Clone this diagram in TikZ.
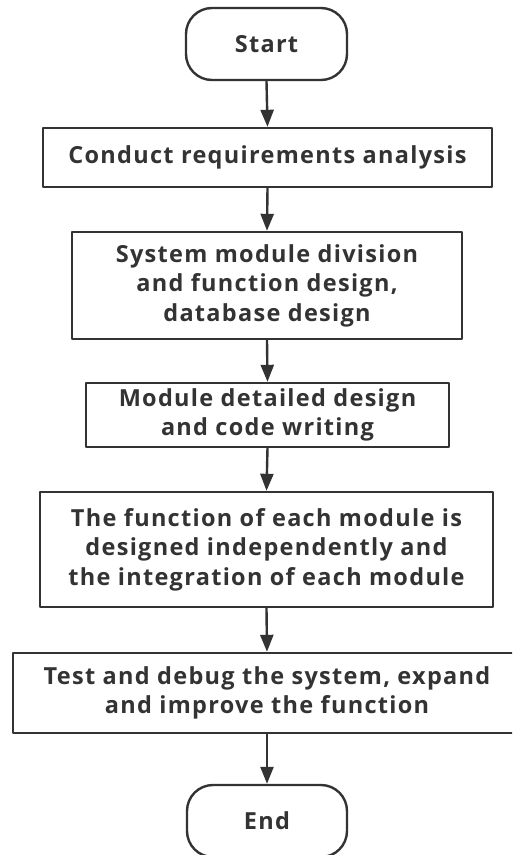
\documentclass[tikz,border=0pt]{standalone}
\usepackage{fontspec}
\setmainfont{Open Sans}[LetterSpace=5.5]
\usetikzlibrary{arrows.meta}

\definecolor{ink}{HTML}{333333}

\begin{document}
\begin{tikzpicture}[x=1pt, y=-1pt, line join=round,
    box/.style={draw=ink, line width=2.4pt, inner sep=0pt, align=center,
      text=ink, font=\fontsize{23.5}{29.5}\selectfont\bfseries},
    terminal/.style={box, rounded corners=26pt},
    flow/.style={draw=ink, line width=2.4pt, -{Triangle[length=17pt, width=13pt]}}]
    % page size
    \useasboundingbox (0,0) rectangle (512,855);
    \clip (0,0) rectangle (512,855);

    % steps, top to bottom
    \node[terminal, minimum width=161pt, minimum height=72pt] (start) at (266.5,44) {Start};
    \node[box, minimum width=449pt, minimum height=59pt] (req) at (267.5,157.5) {Conduct requirements analysis};
    \node[box, minimum width=390pt, minimum height=107pt] (sys) at (267,285.5)
      {System module division\\and function design,\\database design};
    \node[box, minimum width=363pt, minimum height=64pt] (code) at (267.5,415)
      {Module detailed design\\and code writing};
    \node[box, minimum width=453pt, minimum height=115pt] (integ) at (266.5,549.5)
      {The function of each module is\\designed independently and\\the integration of each module};
    \node[box, minimum width=508pt, minimum height=80pt] (test) at (267,693)
      {Test and debug the system, expand\\and improve the function};
    \node[terminal, minimum width=160pt, minimum height=72pt] (end) at (267,821) {End};

    % arrows between consecutive steps
    \foreach \a/\b in {start/req, req/sys, sys/code, code/integ, integ/test, test/end} {
      \draw[flow] (\a.south) -- (\b.north);
    }
\end{tikzpicture}
\end{document}
